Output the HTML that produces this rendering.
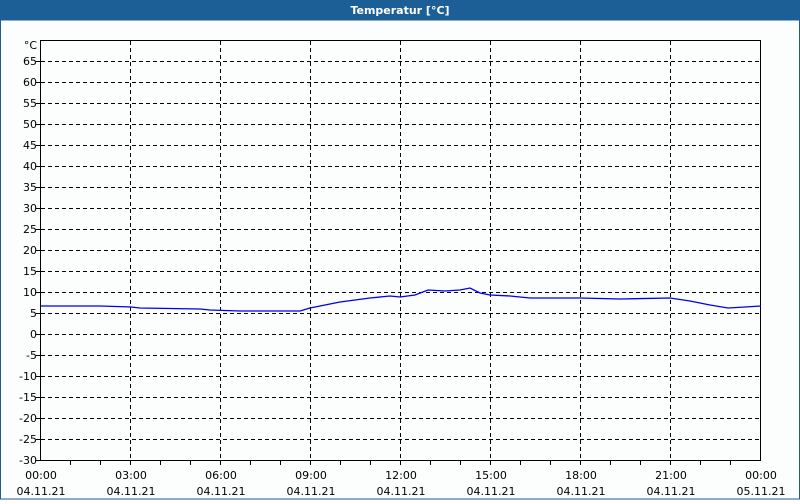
<!DOCTYPE html>
<html><head><meta charset="utf-8"><style>
body{margin:0;width:800px;height:500px;overflow:hidden;background:#fff;font-family:"DejaVu Sans","Liberation Sans",sans-serif}
</style></head><body>
<svg width="800" height="500" xmlns="http://www.w3.org/2000/svg" font-family="DejaVu Sans, Liberation Sans, sans-serif" font-size="11">
<rect x="0" y="0" width="800" height="500" fill="#fcfdfd"/>
<rect x="0" y="0" width="800" height="20" fill="#1c5f96"/>
<rect x="0.5" y="20" width="799" height="479" fill="none" stroke="#1c5f96"/>
<text x="400" y="14" fill="#fff" font-weight="bold" text-anchor="middle">Temperatur [°C]</text>
<g stroke="#000" stroke-dasharray="4,3" stroke-width="1">
<path d="M41 61.5H761M41 82.5H761M41 103.5H761M41 124.5H761M41 145.5H761M41 166.5H761M41 187.5H761M41 208.5H761M41 229.5H761M41 250.5H761M41 271.5H761M41 292.5H761M41 313.5H761M41 334.5H761M41 355.5H761M41 376.5H761M41 397.5H761M41 418.5H761M41 439.5H761"/>
<path d="M130.5 41V461M220.5 41V461M310.5 41V461M400.5 41V461M490.5 41V461M580.5 41V461M670.5 41V461"/>
</g>
<rect x="40.5" y="40.5" width="720" height="420" fill="none" stroke="#000"/>
<g stroke="#000">
<path d="M70.5 461v4M100.5 461v4M130.5 461v4M160.5 461v4M190.5 461v4M220.5 461v4M250.5 461v4M280.5 461v4M310.5 461v4M340.5 461v4M370.5 461v4M400.5 461v4M430.5 461v4M460.5 461v4M490.5 461v4M520.5 461v4M550.5 461v4M580.5 461v4M610.5 461v4M640.5 461v4M670.5 461v4M700.5 461v4M730.5 461v4M36 61.5h5M36 82.5h5M36 103.5h5M36 124.5h5M36 145.5h5M36 166.5h5M36 187.5h5M36 208.5h5M36 229.5h5M36 250.5h5M36 271.5h5M36 292.5h5M36 313.5h5M36 334.5h5M36 355.5h5M36 376.5h5M36 397.5h5M36 418.5h5M36 439.5h5M36 460.5h5"/>
</g>
<polyline fill="none" stroke="#0000ee" stroke-width="1.3" points="41,306 100,306 131,307 140,308 200,309 210,310 240,311 300,311 310,308 340,302 370,298 390,296 400,297 415,295 428,290 445,291 460,290 470,288 480,293 490,295 510,296 530,298 580,298 620,299 670,298 690,301 710,305 728,308 745,307 761,306"/>
<g text-anchor="end" fill="#000">
<text x="37" y="49">°C</text>
<text x="37" y="65">65</text><text x="37" y="86">60</text><text x="37" y="107">55</text><text x="37" y="128">50</text><text x="37" y="149">45</text><text x="37" y="170">40</text><text x="37" y="191">35</text><text x="37" y="212">30</text><text x="37" y="233">25</text><text x="37" y="254">20</text><text x="37" y="275">15</text><text x="37" y="296">10</text><text x="37" y="317">5</text><text x="37" y="338">0</text><text x="37" y="359">-5</text><text x="37" y="380">-10</text><text x="37" y="401">-15</text><text x="37" y="422">-20</text><text x="37" y="443">-25</text><text x="37" y="464">-30</text>
</g>
<g text-anchor="middle" fill="#000">
<text x="41" y="479">00:00</text><text x="41" y="495">04.11.21</text>
<text x="131" y="479">03:00</text><text x="131" y="495">04.11.21</text>
<text x="221" y="479">06:00</text><text x="221" y="495">04.11.21</text>
<text x="311" y="479">09:00</text><text x="311" y="495">04.11.21</text>
<text x="401" y="479">12:00</text><text x="401" y="495">04.11.21</text>
<text x="491" y="479">15:00</text><text x="491" y="495">04.11.21</text>
<text x="581" y="479">18:00</text><text x="581" y="495">04.11.21</text>
<text x="671" y="479">21:00</text><text x="671" y="495">04.11.21</text>
<text x="761" y="479">00:00</text><text x="761" y="495">05.11.21</text>
</g>
</svg>
</body></html>
